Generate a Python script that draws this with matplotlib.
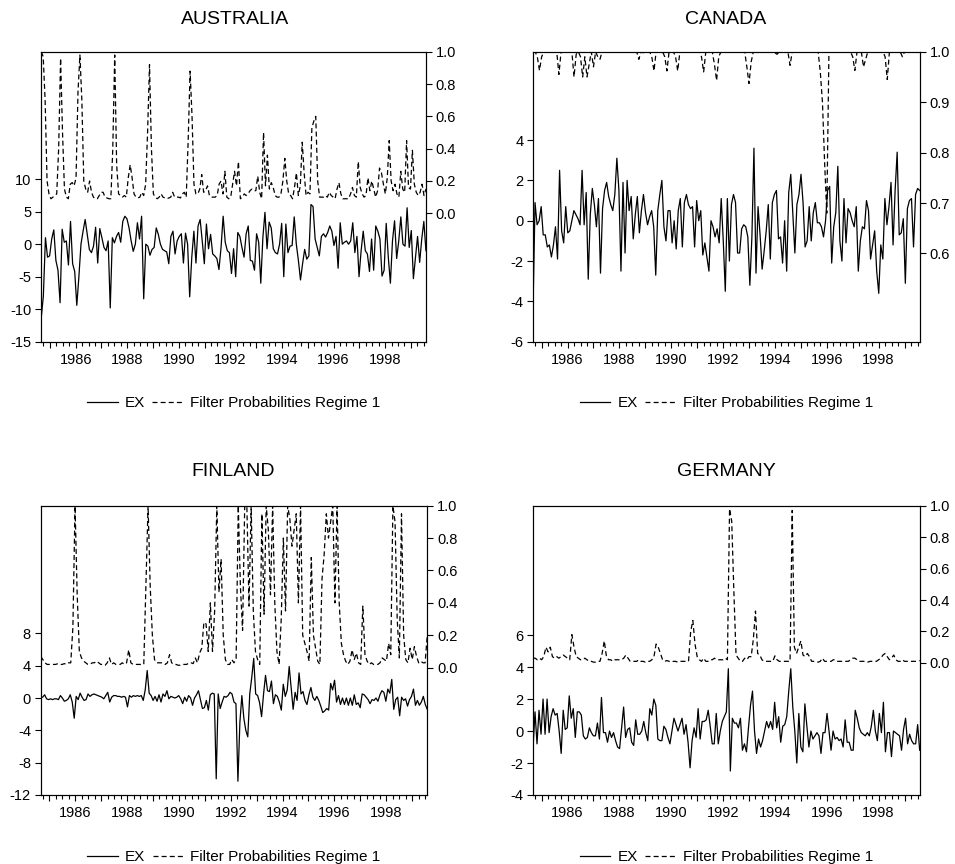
import matplotlib
matplotlib.use("Agg")
import numpy as np
import matplotlib.pyplot as plt
from matplotlib.lines import Line2D
from matplotlib.ticker import FixedLocator, MultipleLocator

plt.rcParams["font.family"] = ["Liberation Sans", "DejaVu Sans"]
plt.rcParams["axes.unicode_minus"] = False

# sample: 1984:09 - 1999:08, monthly
START, END = 1984 + 8 / 12, 1999 + 7 / 12
YEARS = list(range(1985, 2000))
YEAR_LABELS = [str(y) if y % 2 == 0 else "" for y in YEARS]

LEGEND_LABELS = ["EX", "Filter Probabilities Regime 1"]

# ---------------- AUSTRALIA ----------------
au_ex = [
    -11.3, -8.0, 1.0, -2.0,
    -1.8, 0.8, 2.2, -2.5, -4.0, -9.0, 2.3, 0.3, 0.5, -3.2, 3.5, -3.0,
    -4.2, -9.4, -5.0, 0.0, 2.0, 3.8, 1.5, -0.8, -1.3, -0.3, 2.6, -2.9,
    2.4, 1.0, -0.5, -1.0, 0.5, -9.8, 1.0, 0.2, 1.2, 1.8, 0.3, 3.5,
    4.3, 3.9, 2.5, 0.5, -1.1, 0.0, 3.3, 0.8, 4.3, -8.4, 0.0, -0.3,
    -1.7, -0.8, -0.5, 2.5, 1.5, 0.0, -0.8, -1.0, -1.2, -3.0, 1.2, 2.0,
    -1.5, 0.5, 1.2, 1.6, -2.9, 1.7, 0.0, -8.1, -2.0, 2.0, -2.9, 2.8,
    3.8, 0.5, -3.0, 3.1, -0.7, 1.5, -1.5, -1.8, -2.2, -3.9, -0.5, 4.3,
    0.3, -1.0, -1.3, -4.5, -0.7, -5.0, 1.8, 1.2, -0.5, -2.0, 1.6, 2.8,
    -2.5, -2.6, -4.0, 1.6, 0.3, -6.0, 1.0, 4.9, -0.7, 3.4, 2.5, -0.7,
    -1.3, -1.5, 0.0, 3.2, -5.0, 3.1, -1.3, -0.3, -0.2, 4.2, 0.0, -2.5,
    -5.5, -3.0, -0.8, -2.3, -1.8, 6.1, 5.8, 0.8, -0.5, -1.8, 1.2, 1.6,
    1.1, 1.8, 2.8, 2.0, -0.2, 1.2, -3.7, 3.3, 0.0, 0.3, 0.5, 0.0,
    0.5, 3.3, -1.3, 1.2, -5.0, -1.0, 2.0, -1.0, -1.5, -4.2, 0.8, -4.0,
    2.8, 2.0, 0.8, -4.9, -4.0, 3.2, -2.0, -6.0, 0.5, 3.6, -2.2, 0.5,
    4.2, 0.0, -0.3, 5.6, -0.5, 2.1, -5.3, -2.0, 1.2, -2.8, 0.8, 3.5, -1.0,
]
au_prob = [
    1.0, 0.97, 0.7, 0.2, 0.12, 0.09, 0.1, 0.11, 0.12, 0.4,
    0.96, 0.5, 0.15, 0.1, 0.09, 0.18, 0.19, 0.17, 0.22, 0.75,
    0.98, 0.7, 0.2, 0.15, 0.13, 0.2, 0.13, 0.1, 0.09, 0.09,
    0.11, 0.13, 0.13, 0.1, 0.095, 0.09, 0.09, 0.4, 0.98, 0.3,
    0.12, 0.11, 0.1, 0.11, 0.1, 0.22, 0.3, 0.22, 0.12, 0.1,
    0.095, 0.1, 0.13, 0.11, 0.18, 0.5, 0.92, 0.4, 0.12, 0.1,
    0.09, 0.1, 0.12, 0.1, 0.095, 0.09, 0.095, 0.1, 0.13, 0.1,
    0.1, 0.1, 0.095, 0.12, 0.13, 0.1, 0.45, 0.88, 0.6, 0.18,
    0.12, 0.12, 0.15, 0.24, 0.13, 0.14, 0.17, 0.11, 0.1, 0.1,
    0.1, 0.11, 0.18, 0.2, 0.12, 0.26, 0.1, 0.09, 0.1, 0.18,
    0.26, 0.17, 0.32, 0.09, 0.1, 0.12, 0.11, 0.12, 0.14, 0.15,
    0.14, 0.14, 0.23, 0.13, 0.09, 0.5, 0.17, 0.36, 0.15, 0.19,
    0.16, 0.11, 0.1, 0.1, 0.12, 0.2, 0.34, 0.2, 0.12, 0.11,
    0.09, 0.16, 0.25, 0.11, 0.17, 0.44, 0.25, 0.11, 0.13, 0.12,
    0.53, 0.57, 0.6, 0.2, 0.1, 0.1, 0.1, 0.11, 0.1, 0.13,
    0.11, 0.1, 0.09, 0.15, 0.19, 0.12, 0.09, 0.09, 0.09, 0.09,
    0.12, 0.16, 0.11, 0.1, 0.32, 0.16, 0.12, 0.1, 0.11, 0.22,
    0.14, 0.2, 0.15, 0.1, 0.14, 0.28, 0.25, 0.18, 0.12, 0.22,
    0.45, 0.2, 0.14, 0.18, 0.12, 0.1, 0.26, 0.15, 0.13, 0.45,
    0.16, 0.15, 0.39, 0.18, 0.13, 0.11, 0.13, 0.18, 0.11, 0.15,
]

# ---------------- CANADA ----------------
ca_ex = [
    -4.5, 0.9, -0.2, 0.0, 0.7, -0.7, -0.7, -1.3, -1.2, -1.8,
    -1.2, -0.3, -1.9, 2.5, -0.5, -1.1, 0.7, -0.6, -0.5, 0.0,
    0.5, 0.3, 0.1, -0.2, 2.5, -0.2, 1.4, -2.9, 0.3, 1.6,
    0.8, -0.3, 1.1, -2.6, 0.6, 1.5, 1.9, 1.2, 0.8, 0.5,
    1.3, 3.1, 1.5, -2.5, 1.9, -1.6, 2.0, 0.5, 1.2, -0.9,
    0.3, 1.2, -0.6, 0.5, 1.3, 0.4, -0.2, 0.2, 0.5, -0.3,
    -2.7, 0.5, 1.3, 2.0, -0.3, -1.0, 0.5, 0.5, -1.1, 0.0,
    -1.4, 0.5, 1.1, -1.3, 0.9, 1.3, 0.8, 0.6, 0.7, -1.3,
    1.0, 0.0, 0.5, -1.7, -1.1, -1.8, -2.5, 0.0, -0.3, -0.8,
    -0.4, -1.1, 1.1, -1.0, -3.5, 1.1, -2.0, 0.8, 1.3, 0.9,
    -1.6, -1.6, -0.4, -0.2, -0.3, -0.8, -3.2, -0.8, 3.6, -2.6,
    0.7, -0.7, -2.4, -1.5, -0.5, 0.8, -1.9, 0.9, 1.3, 1.5,
    -0.9, -0.8, -2.1, 0.0, -2.5, 1.4, 2.3, 0.3, -1.6, 0.8,
    1.3, 2.3, 0.9, -1.3, -1.0, 0.7, -1.0, 0.4, 0.9, -0.1,
    -0.1, -0.3, -0.8, 0.0, 1.5, 1.7, -2.1, -0.3, 0.4, 2.7,
    -1.0, -2.0, 1.1, -1.1, 0.6, 0.4, 0.0, -0.3, 0.7, -2.5,
    -1.0, -0.3, -0.4, 1.0, 0.5, -1.9, -1.2, -0.5, -2.5, -3.6,
    -1.2, -1.9, 1.1, -0.2, 0.7, 1.9, -1.2, 1.5, 3.4, -0.7,
    -0.6, 0.1, -3.1, 0.6, 1.0, 1.1, -1.3, 1.3, 1.6, 1.5,
]
ca_prob = [
    1.0, 1.0, 0.99, 0.963, 0.99, 1.0, 1.0, 1.0, 1.0, 1.0, 1.0, 1.0,
    0.955, 1.0, 1.0, 1.0, 1.0, 1.0, 1.0, 0.95, 0.995, 1.0, 0.99, 0.95,
    0.99, 0.95, 0.975, 1.0, 0.97, 1.0, 0.99, 0.985, 1.0, 1.0, 1.0, 1.0,
    1.0, 1.0, 1.0, 1.0, 1.0, 1.0, 1.0, 1.0, 1.0, 1.0, 1.0, 1.0,
    1.0, 0.985, 1.0, 0.998, 1.0, 1.0, 1.0, 0.99, 0.962, 1.0, 1.0, 1.0,
    1.0, 0.99, 0.962, 1.0, 1.0, 1.0, 0.99, 0.962, 1.0, 1.0, 1.0, 1.0,
    1.0, 1.0, 1.0, 1.0, 1.0, 1.0, 0.99, 0.96, 1.0, 1.0, 1.0, 1.0,
    0.975, 0.943, 0.99, 1.0, 1.0, 1.0, 1.0, 1.0, 1.0, 1.0, 1.0, 1.0,
    1.0, 1.0, 1.0, 0.97, 0.937, 0.98, 1.0, 1.0, 1.0, 1.0, 1.0, 1.0,
    1.0, 1.0, 1.0, 1.0, 0.998, 0.995, 1.0, 1.0, 1.0, 1.0, 1.0, 0.973,
    1.0, 1.0, 1.0, 1.0, 1.0, 1.0, 1.0, 1.0, 1.0, 1.0, 1.0, 1.0,
    1.0, 0.96, 0.9, 0.78, 0.68, 1.0, 1.0, 1.0, 1.0, 1.0, 1.0, 1.0,
    1.0, 1.0, 1.0, 1.0, 0.99, 0.963, 1.0, 1.0, 1.0, 0.97, 0.985, 1.0,
    1.0, 1.0, 1.0, 1.0, 1.0, 1.0, 1.0, 0.99, 0.945, 1.0, 1.0, 1.0,
    1.0, 1.0, 1.0, 0.99, 1.0, 1.0, 1.0, 1.0, 1.0, 1.0, 1.0, 1.0,
]

# ---------------- FINLAND ----------------
fi_ex = [
    0.1,
    0.1, 0.4, -0.1, -0.2, -0.1, -0.2, -0.1, -0.1, -0.2, 0.3,
    0.0, -0.4, -0.3, -0.1, 0.4, -0.5, -2.5, 0.2, -0.2, 0.6,
    0.1, -0.3, -0.2, 0.5, 0.2, 0.4, 0.5, 0.4, 0.3, 0.2,
    0.1, -0.1, 0.3, 0.7, -0.5, 0.1, 0.3, 0.3, 0.2, 0.2,
    0.1, 0.2, 0.1, -1.1, 0.3, 0.1, 0.3, 0.2, 0.3, 0.2,
    0.3, -0.3, 1.0, 3.4, 0.6, 0.3, -0.3, 0.2, -0.4, 0.4,
    -0.5, 0.5, 0.2, 0.9, -0.1, 0.2, 0.1, 0.0, 0.1, 0.3,
    -0.1, -0.7, 0.1, -0.4, 0.3, 0.0, -0.9, 0.0, 0.4, 0.9,
    -0.2, -1.3, -1.2, -0.3, -1.5, 0.4, 0.6, 0.5, -10.0, 0.5,
    -1.3, -0.5, 0.2, 0.1, 0.3, 0.7, 0.5, -0.5, -0.7, -10.3,
    -3.0, 0.3, -2.5, -4.0, -4.8, 0.5, 2.5, 4.9, 0.5, 0.3,
    -0.6, -2.3, 0.5, 2.8, 0.9, 0.8, 2.1, -0.7, 0.4, 0.2,
    -0.5, -1.5, 1.7, 0.2, 1.0, 3.9, 1.2, -1.4, 0.7, -0.3,
    3.1, 0.5, 0.8, -0.3, -0.8, 0.4, 1.3, 0.1, -0.3, 0.2,
    -0.3, -1.0, -1.8, -1.6, -1.3, -1.5, 1.8, 1.0, 2.2, -0.5,
    0.3, -0.8, 0.0, -0.8, 0.0, -0.9, 0.0, -0.9, 0.4, -0.8,
    -0.6, -1.2, 0.5, 0.4, 0.1, -0.2, -0.7, -0.2, -0.3, 0.0,
    -0.4, 0.4, 0.9, 0.7, -0.4, 1.1, 0.6, 2.3, -1.4, -0.2,
    0.1, -2.2, 0.1, -0.3, -0.1, -1.0, -0.2, 0.2, 1.1, -0.9,
    -0.3, -0.9, -0.5, 0.2, -0.8, -1.4,
]
fi_prob = [
    0.07, 0.05, 0.03, 0.02, 0.02, 0.02, 0.02, 0.02, 0.025, 0.02, 0.02, 0.025,
    0.02, 0.03, 0.03, 0.25, 1.0, 0.45, 0.1, 0.06, 0.04, 0.03, 0.02, 0.02,
    0.03, 0.03, 0.04, 0.03, 0.02, 0.02, 0.015, 0.03, 0.06, 0.02, 0.03, 0.02,
    0.02, 0.02, 0.03, 0.02, 0.03, 0.11, 0.03, 0.02, 0.02, 0.02, 0.02, 0.02,
    0.02, 0.5, 1.0, 0.5, 0.2, 0.05, 0.03, 0.03, 0.03, 0.03, 0.02, 0.03,
    0.08, 0.03, 0.02, 0.02, 0.015, 0.015, 0.02, 0.02, 0.02, 0.03, 0.03, 0.025,
    0.06, 0.03, 0.09, 0.12, 0.28, 0.27, 0.1, 0.4, 0.1, 0.35, 1.0, 0.47,
    0.67, 0.2, 0.05, 0.02, 0.02, 0.05, 0.03, 0.05, 1.0, 0.5, 0.23, 1.0,
    1.0, 0.38, 1.0, 0.35, 0.1, 0.05, 0.02, 0.95, 0.33, 1.0, 0.85, 0.45,
    1.0, 0.4, 0.1, 0.02, 0.3, 0.8, 0.35, 1.0, 0.92, 0.75, 0.85, 0.95,
    0.4, 1.0, 0.2, 0.15, 0.1, 0.04, 0.68, 0.2, 0.12, 0.04, 0.02, 0.55,
    0.7, 0.95, 0.8, 0.9, 1.0, 0.4, 1.0, 0.4, 0.15, 0.08, 0.04, 0.02,
    0.04, 0.11, 0.05, 0.09, 0.03, 0.02, 0.38, 0.08, 0.04, 0.02, 0.03, 0.02,
    0.02, 0.02, 0.03, 0.06, 0.05, 0.04, 0.15, 0.08, 1.0, 0.9, 0.3, 0.06,
    0.95, 0.2, 0.05, 0.03, 0.12, 0.05, 0.13, 0.07, 0.03, 0.04, 0.03, 0.03, 0.2,
]

# ---------------- GERMANY ----------------
ge_ex = [
    -1.1, 1.2, -0.8, 1.3, -0.2, 2.0, -0.2, 2.0, -0.1, 0.9,
    1.4, 1.0, 1.1, 0.0, -1.4, 1.3, 0.1, 0.2, 2.2, 0.8, 1.4,
    -0.4, 1.2, 1.2, 1.0, -0.3, -0.5, -0.4, 0.2, -0.1, -0.3,
    -0.3, 0.5, -0.5, 2.1, -0.1, -0.1, -0.7, 0.0, -0.4, -0.1,
    -0.6, -1.0, -1.1, 0.2, 1.5, -0.4, 0.1, 0.2, -0.7, -0.9, 0.7,
    -0.2, -0.2, 0.0, 0.6, -0.1, -0.6, 1.4, 1.0, 2.0, 1.6,
    -0.5, -0.6, -0.6, 0.3, 0.1, -0.4, -0.8, 0.0, 0.8, 0.4,
    0.0, 0.4, 0.8, -0.2, 0.4, -0.7, -2.3, -0.6, 0.2, -0.4,
    1.4, -0.5, 0.6, 0.6, 0.7, 1.3, 0.3, -0.8, -0.8, 1.1,
    -0.8, 0.0, 0.6, 0.9, 1.2, 3.9, -2.5, 0.8, 0.5, 0.5,
    0.2, 0.8, -1.2, -0.8, -1.3, 0.2, 1.6, 2.5, 0.0,
    -1.4, -0.5, -1.0, -0.6, 0.0, 0.6, 0.2, 0.6, 0.1, 1.8,
    0.2, 0.9, -0.7, 0.3, 0.4, 0.9, 2.5, 3.9, 1.5,
    0.0, -2.0, 1.1, -1.0, -1.3, 1.7, 0.3, -1.0, 0.0, -0.5,
    -0.3, -0.1, -0.3, -1.4, -0.1, -0.1, 1.1, 0.0, -1.2, 0.0,
    -0.5, -0.4, -0.6, -0.5, -1.0, 0.7, -0.7, -0.7, -1.2, -1.2,
    1.3, 0.8, 0.2, -0.1, -0.2, -0.3, -0.1, -0.3, 0.3, 1.3,
    0.0, -0.6, 1.1, -0.1, 1.8, -1.3, -0.1, -0.1, -1.6, 0.0,
    -0.1, -0.2, -0.3, -1.2, 0.1, 0.8, -0.8, -0.2, -0.6, -0.8,
    -0.8, 0.4, -1.2,
]
ge_prob = [
    0.03, 0.03, 0.02, 0.03, 0.02, 0.04, 0.1, 0.07, 0.1, 0.04, 0.03, 0.04,
    0.03, 0.04, 0.05, 0.04, 0.03, 0.02, 0.18, 0.1, 0.04, 0.03, 0.02, 0.02,
    0.03, 0.02, 0.01, 0.01, 0.005, 0.005, 0.01, 0.01, 0.06, 0.14, 0.04, 0.02,
    0.02, 0.01, 0.02, 0.02, 0.02, 0.02, 0.03, 0.05, 0.03, 0.01, 0.01, 0.01,
    0.01, 0.02, 0.01, 0.01, 0.005, 0.01, 0.01, 0.02, 0.04, 0.12, 0.1, 0.06,
    0.02, 0.01, 0.015, 0.01, 0.005, 0.01, 0.01, 0.005, 0.01, 0.01, 0.01, 0.01,
    0.01, 0.2, 0.27, 0.12, 0.04, 0.02, 0.01, 0.03, 0.01, 0.01, 0.02, 0.02,
    0.03, 0.02, 0.02, 0.02, 0.02, 0.03, 0.02, 0.98, 0.9, 0.45, 0.05, 0.03,
    0.01, 0.01, 0.03, 0.02, 0.04, 0.04, 0.15, 0.33, 0.06, 0.05, 0.02, 0.01,
    0.01, 0.01, 0.01, 0.01, 0.045, 0.02, 0.01, 0.01, 0.01, 0.01, 0.01, 0.01,
    0.97, 0.1, 0.06, 0.1, 0.14, 0.05, 0.04, 0.06, 0.04, 0.01, 0.01, 0.005,
    0.005, 0.01, 0.03, 0.01, 0.01, 0.01, 0.01, 0.02, 0.02, 0.01, 0.01, 0.01,
    0.01, 0.01, 0.01, 0.02, 0.03, 0.03, 0.02, 0.01, 0.01, 0.01, 0.01, 0.005,
    0.01, 0.01, 0.01, 0.01, 0.02, 0.03, 0.05, 0.06, 0.04, 0.02, 0.03, 0.05,
    0.02, 0.01, 0.01, 0.02, 0.01, 0.01, 0.01, 0.01, 0.01, 0.01, 0.01, 0.015,
]

PROB_TICKS_A = [0.0, 0.2, 0.4, 0.6, 0.8, 1.0]
PROB_TICKS_B = [0.6, 0.7, 0.8, 0.9, 1.0]

DASH = (0, (4, 2.5))


def draw_panel(fig, rect, title, title_xy, ex, prob,
               left_lim, left_ticks, right_lim, right_ticks, legend_y):
    ax = fig.add_axes(rect)
    t_ex = np.linspace(START, END, len(ex))
    t_pr = np.linspace(START, END, len(prob))

    ax.plot(t_ex, ex, color="black", lw=0.9)
    ax.set_xlim(START, END)
    ax.set_ylim(*left_lim)
    ax.set_yticks(left_ticks)
    ax.set_yticklabels([str(v) for v in left_ticks])

    ax.xaxis.set_major_locator(FixedLocator(YEARS))
    ax.set_xticklabels(YEAR_LABELS)
    ax.xaxis.set_minor_locator(MultipleLocator(0.25))

    ax2 = ax.twinx()
    ax2.plot(t_pr, prob, color="black", lw=0.9, linestyle=DASH)
    ax2.set_ylim(*right_lim)
    ax2.set_yticks(right_ticks)
    ax2.set_yticklabels(["%.1f" % v for v in right_ticks])

    for a in (ax, ax2):
        for sp in a.spines.values():
            sp.set_linewidth(0.8)
        a.tick_params(axis="both", which="major", direction="out",
                      length=4, width=0.8, labelsize=10.5, colors="black")
        a.tick_params(axis="x", which="minor", direction="out",
                      length=3, width=0.8)
    ax.tick_params(axis="y", pad=3)
    ax.tick_params(axis="x", pad=4)
    ax2.tick_params(axis="y", pad=3)

    handles = [Line2D([], [], color="black", lw=0.9),
               Line2D([], [], color="black", lw=0.9, linestyle=DASH)]
    ax2.legend(handles, LEGEND_LABELS, loc="center",
               bbox_to_anchor=(0.5, legend_y), ncol=2, frameon=False,
               fontsize=11, handlelength=2.0, handletextpad=0.45,
               columnspacing=0.5)

    fig.text(title_xy[0], title_xy[1], title, ha="center", va="center",
             fontsize=14)
    return ax, ax2


fig = plt.figure(figsize=(9.55, 8.64), dpi=100)

draw_panel(fig, [0.0432, 0.6045, 0.4028, 0.3356], "AUSTRALIA",
           (235 / 955, 1 - 19 / 864), au_ex, au_prob,
           (-15, 29.6), [-15, -10, -5, 0, 5, 10],
           (-0.795, 1.0), PROB_TICKS_A, -0.212)

draw_panel(fig, [0.5581, 0.6045, 0.4049, 0.3356], "CANADA",
           (726 / 955, 1 - 19 / 864), ca_ex, ca_prob,
           (-6, 8.38), [-6, -4, -2, 0, 2, 4],
           (0.425, 1.0), PROB_TICKS_B, -0.212)

draw_panel(fig, [0.0426, 0.0799, 0.4048, 0.3348], "FINLAND",
           (233 / 955, 1 - 472 / 864), fi_ex, fi_prob,
           (-12, 23.8), [-12, -8, -4, 0, 4, 8],
           (-0.786, 1.0), PROB_TICKS_A, -0.215)

draw_panel(fig, [0.5581, 0.0799, 0.4049, 0.3348], "GERMANY",
           (726 / 955, 1 - 472 / 864), ge_ex, ge_prob,
           (-4, 14.1), [-4, -2, 0, 2, 4, 6],
           (-0.84, 1.0), PROB_TICKS_A, -0.215)

fig.savefig("out.png", dpi=100)
